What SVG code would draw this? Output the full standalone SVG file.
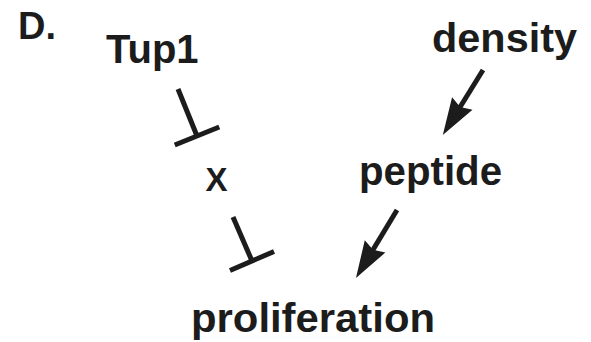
<svg xmlns="http://www.w3.org/2000/svg" width="591" height="342" viewBox="0 0 591 342">
<style>
  text { font-family: "Liberation Sans", Arial, sans-serif; font-weight: bold; fill: #1c1c1c; }
  .lbl { font-size: 40px; }
  .edge { stroke: #1c1c1c; stroke-width: 5; fill: none; }
</style>
<defs>
  <marker id="arrow" markerUnits="userSpaceOnUse" viewBox="-30 -30 60 60" refX="0" refY="0" markerWidth="60" markerHeight="60" orient="auto" overflow="visible">
    <path d="M15,0 L-22,-12 L-18,0 L-22,12 Z" fill="#1c1c1c"/>
  </marker>
  <marker id="tbar" markerUnits="userSpaceOnUse" viewBox="-30 -30 60 60" refX="0" refY="0" markerWidth="60" markerHeight="60" orient="auto" overflow="visible">
    <line x1="0" y1="-24" x2="0" y2="24" stroke="#1c1c1c" stroke-width="5"/>
  </marker>
</defs>
<rect width="591" height="342" fill="#ffffff"/>
<g id="panel-label"><text x="18" y="39" style="font-size:38px">D.</text></g>
<g id="node-tup1"><text class="lbl" x="106" y="63">Tup1</text></g>
<g id="node-density"><text class="lbl" x="432" y="52" textLength="145" lengthAdjust="spacingAndGlyphs">density</text></g>
<g id="node-x"><text x="216.5" y="191" text-anchor="middle" style="font-size:33px">X</text></g>
<g id="node-peptide"><text class="lbl" x="359" y="185" textLength="143" lengthAdjust="spacingAndGlyphs">peptide</text></g>
<g id="node-proliferation"><text class="lbl" x="191" y="332" textLength="244" lengthAdjust="spacingAndGlyphs">proliferation</text></g>
<g id="connectors">
  <line class="edge" x1="178" y1="89" x2="197" y2="136" marker-end="url(#tbar)"/>
  <line class="edge" x1="233" y1="217" x2="252" y2="261" marker-end="url(#tbar)"/>
  <line class="edge" x1="483" y1="70" x2="450.7" y2="122.2" marker-end="url(#arrow)"/>
  <line class="edge" x1="397" y1="210" x2="363.7" y2="265.2" marker-end="url(#arrow)"/>
</g>
</svg>
